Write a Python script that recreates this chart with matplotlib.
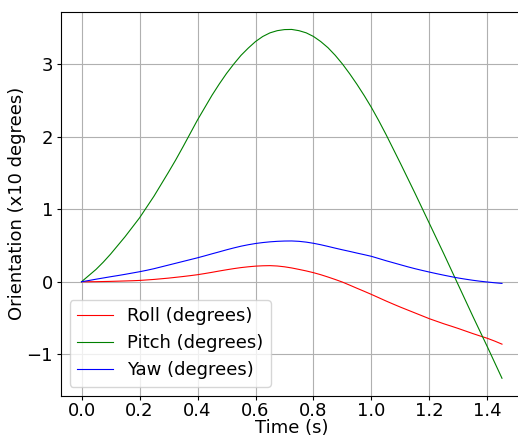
import numpy as np
import matplotlib
matplotlib.use("Agg")
import matplotlib.pyplot as plt

# sample times (s), every 25 ms
time = np.arange(0, 59) * 0.025

# orientation in tens of degrees
roll = [0.0, 0.0, 0.001, 0.003, 0.005, 0.008, 0.011, 0.014, 0.018, 0.025,
        0.032, 0.041, 0.050, 0.061, 0.072, 0.084, 0.097, 0.113, 0.130, 0.148,
        0.165, 0.181, 0.195, 0.206, 0.215, 0.220, 0.222, 0.217, 0.206, 0.190,
        0.170, 0.149, 0.125, 0.097, 0.065, 0.031, -0.005, -0.047, -0.090, -0.132,
        -0.175, -0.220, -0.265, -0.308, -0.350, -0.390, -0.430, -0.470, -0.510, -0.545,
        -0.580, -0.612, -0.645, -0.680, -0.715, -0.748, -0.780, -0.818, -0.860]
pitch = [0.0, 0.085, 0.17, 0.27, 0.38, 0.50, 0.62, 0.75, 0.88, 1.03,
         1.18, 1.345, 1.51, 1.68, 1.86, 2.045, 2.23, 2.40, 2.57, 2.725,
         2.87, 3.00, 3.12, 3.22, 3.31, 3.38, 3.43, 3.46, 3.475, 3.477,
         3.46, 3.43, 3.38, 3.31, 3.225, 3.12, 3.00, 2.865, 2.72, 2.565,
         2.40, 2.22, 2.03, 1.83, 1.63, 1.425, 1.22, 1.01, 0.80, 0.59,
         0.38, 0.165, -0.05, -0.265, -0.48, -0.69, -0.90, -1.115, -1.33]
yaw = [0.0, 0.017, 0.035, 0.052, 0.069, 0.085, 0.102, 0.120, 0.138, 0.158,
       0.180, 0.205, 0.230, 0.255, 0.280, 0.305, 0.330, 0.357, 0.385, 0.412,
       0.440, 0.466, 0.490, 0.510, 0.527, 0.540, 0.550, 0.557, 0.561, 0.562,
       0.557, 0.546, 0.530, 0.510, 0.487, 0.463, 0.440, 0.418, 0.395, 0.373,
       0.350, 0.320, 0.290, 0.262, 0.234, 0.206, 0.180, 0.156, 0.133, 0.111,
       0.090, 0.070, 0.051, 0.035, 0.020, 0.007, -0.004, -0.014, -0.023]

plt.rcParams['font.size'] = 13

W, H = 518, 436
fig = plt.figure(figsize=(W / 100, H / 100), dpi=100)
# right spine falls just outside the saved image
ax = fig.add_axes([60.5 / W, (H - 395.7) / H, (523 - 60.5) / W, (395.7 - 12) / H])

ax.plot(time, roll, color='red', lw=0.8, label="Roll (degrees)")
ax.plot(time, pitch, color='green', lw=0.8, label="Pitch (degrees)")
ax.plot(time, yaw, color='blue', lw=0.8, label="Yaw (degrees)")

ax.set_xticks([0.0, 0.2, 0.4, 0.6, 0.8, 1.0, 1.2, 1.4])
ax.set_yticks([-1, 0, 1, 2, 3])
ax.tick_params(length=2.7, pad=2.7)
ax.tick_params(axis='x', pad=2.0)
ax.grid(True)
ax.set_xlabel("Time (s)", labelpad=-1.0)
ax.set_ylabel("Orientation (x10 degrees)", labelpad=0)
ax.legend(loc='lower left')

fig.savefig("out.png", dpi=100)
